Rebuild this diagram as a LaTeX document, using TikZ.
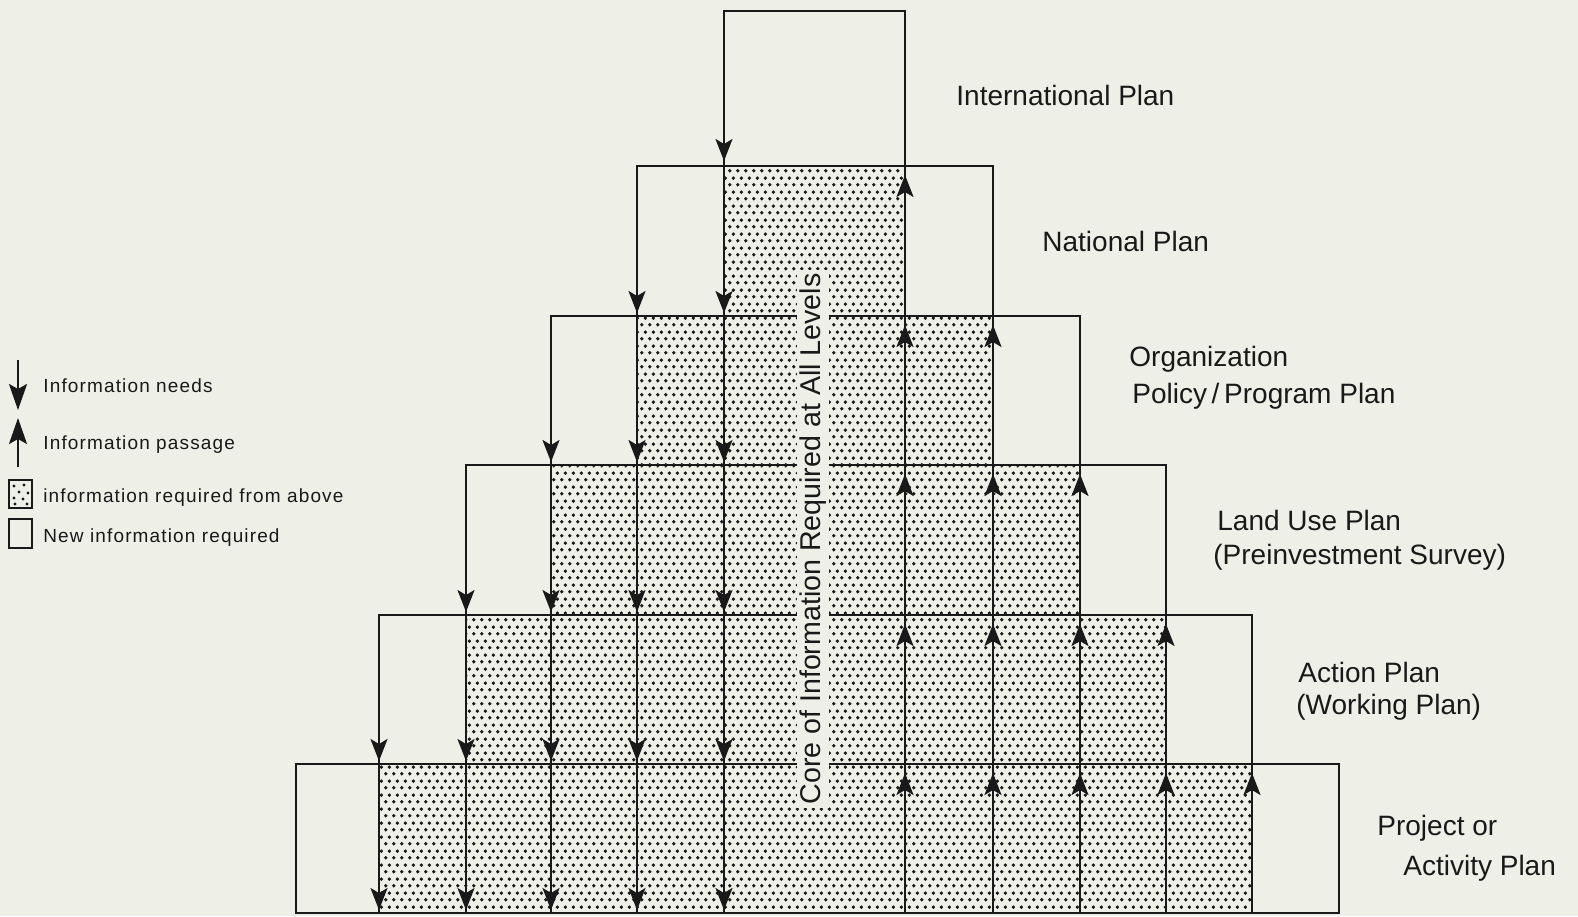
\documentclass[tikz,border=0pt]{standalone}
\usepackage{fontspec}
\setmainfont{Liberation Sans}
\newfontfamily\legendfont{Liberation Sans}[LetterSpace=6]
\usetikzlibrary{arrows.meta,patterns.meta}
\definecolor{paper}{RGB}{238,239,231}
\definecolor{ink}{RGB}{25,25,25}
\tikzdeclarepattern{
  name=hexdots,
  type=uncolored,
  bounding box={(0pt,0pt) and (4pt,7pt)},
  tile size={(4pt,7pt)},
  code={
    \pgfpathcircle{\pgfpoint{1pt}{1.75pt}}{1pt}
    \pgfpathcircle{\pgfpoint{3pt}{5.25pt}}{1pt}
    \pgfusepath{fill}
  }
}
\begin{document}
\begin{tikzpicture}[x=0.5pt,y=-0.5pt,
  ln/.style={draw=ink, line width=1.15pt},
  tipd/.style={draw=ink, line width=1.15pt, -{Stealth[length=11pt,width=8.5pt,inset=2.5pt]}},
  legtip/.style={draw=ink, line width=1.1pt, -{Stealth[length=13pt,width=9pt,inset=2.5pt]}},
  lbl/.style={font=\fontsize{14}{16}\selectfont, text=ink, inner sep=0pt, anchor=base west},
  leg/.style={font=\legendfont\fontsize{9.5}{11}\selectfont, text=ink, inner sep=0pt, anchor=base west}]
\useasboundingbox (0,0) rectangle (1578,916);
\fill[paper] (0,0) rectangle (1578,916);
% shaded: information required from above
\foreach \l/\r/\ta/\tb in {724/905/166/316, 637/993/316/465, 551/1080/465/615, 466/1166/615/764, 379/1252/764/913}
  \fill[pattern=hexdots, pattern color=ink] (\l,\ta) rectangle (\r,\tb);
% level boxes
\foreach \l/\r/\t in {724/905/11, 637/993/166, 551/1080/316, 466/1166/465, 379/1252/615, 296/1339/764}
  \draw[ln] (\l,\t) rectangle (\r,913);
% information needs (down)
\foreach \x [count=\j] in {724,637,551,466,379} {
  \foreach \t [count=\k] in {161,313,462,612,761,910} {
    \ifnum\k<\j\relax\else \draw[tipd] (\x,\t-22) -- (\x,\t);\fi
  }
}
% information passage (up)
\foreach \x [count=\j] in {905,993,1080,1166,1252} {
  \foreach \t [count=\k] in {175,325,474,624,773} {
    \ifnum\k<\j\relax\else \draw[tipd] (\x,\t+22) -- (\x,\t);\fi
  }
}
% core text
\node[rotate=90, fill=paper, inner xsep=2pt, inner ysep=1.2pt, font=\fontsize{14.3}{16}\selectfont, text=ink] (core) at (813,539) {Core of Information Required at All Levels};
% labels
\node[lbl] (intl) at (956,105) {International Plan};
\node[lbl] (natl) at (1042,251) {National Plan};
\node[lbl] (org1) at (1129,366) {Organization};
\node[lbl] (org2) at (1132,403) {Policy\,/\,Program Plan};
\node[lbl] (land1) at (1217,530) {Land Use Plan};
\node[lbl] (land2) at (1213,564) {(Preinvestment Survey)};
\node[lbl] (act1) at (1298,682) {Action Plan};
\node[lbl] (act2) at (1296,714) {(Working Plan)};
\node[lbl] (proj1) at (1377,835) {Project or};
\node[lbl] (proj2) at (1403,875) {Activity Plan};
% legend
\coordinate (ld1) at (18,360); \coordinate (ld2) at (18,410);
\draw[legtip] (ld1) -- (ld2);
\coordinate (lu1) at (18,467); \coordinate (lu2) at (18,418);
\draw[legtip] (lu1) -- (lu2);
\draw[ln, line width=1.3pt] (9,480) rectangle (32,508);
\foreach \px/\py in {14/486, 24/485, 19/492, 28/493, 14/498, 23/499, 15/504, 27/504}
  \fill[ink] (\px,\py) circle [radius=1.7];
\draw[ln, line width=1.3pt] (9,519) rectangle (32,548);
\node[leg] (l1) at (43,392) {Information needs};
\node[leg] (l2) at (43,449) {Information passage};
\node[leg] (l3) at (43,502) {information required from above};
\node[leg] (l4) at (43,542) {New information required};
\end{tikzpicture}
\end{document}
